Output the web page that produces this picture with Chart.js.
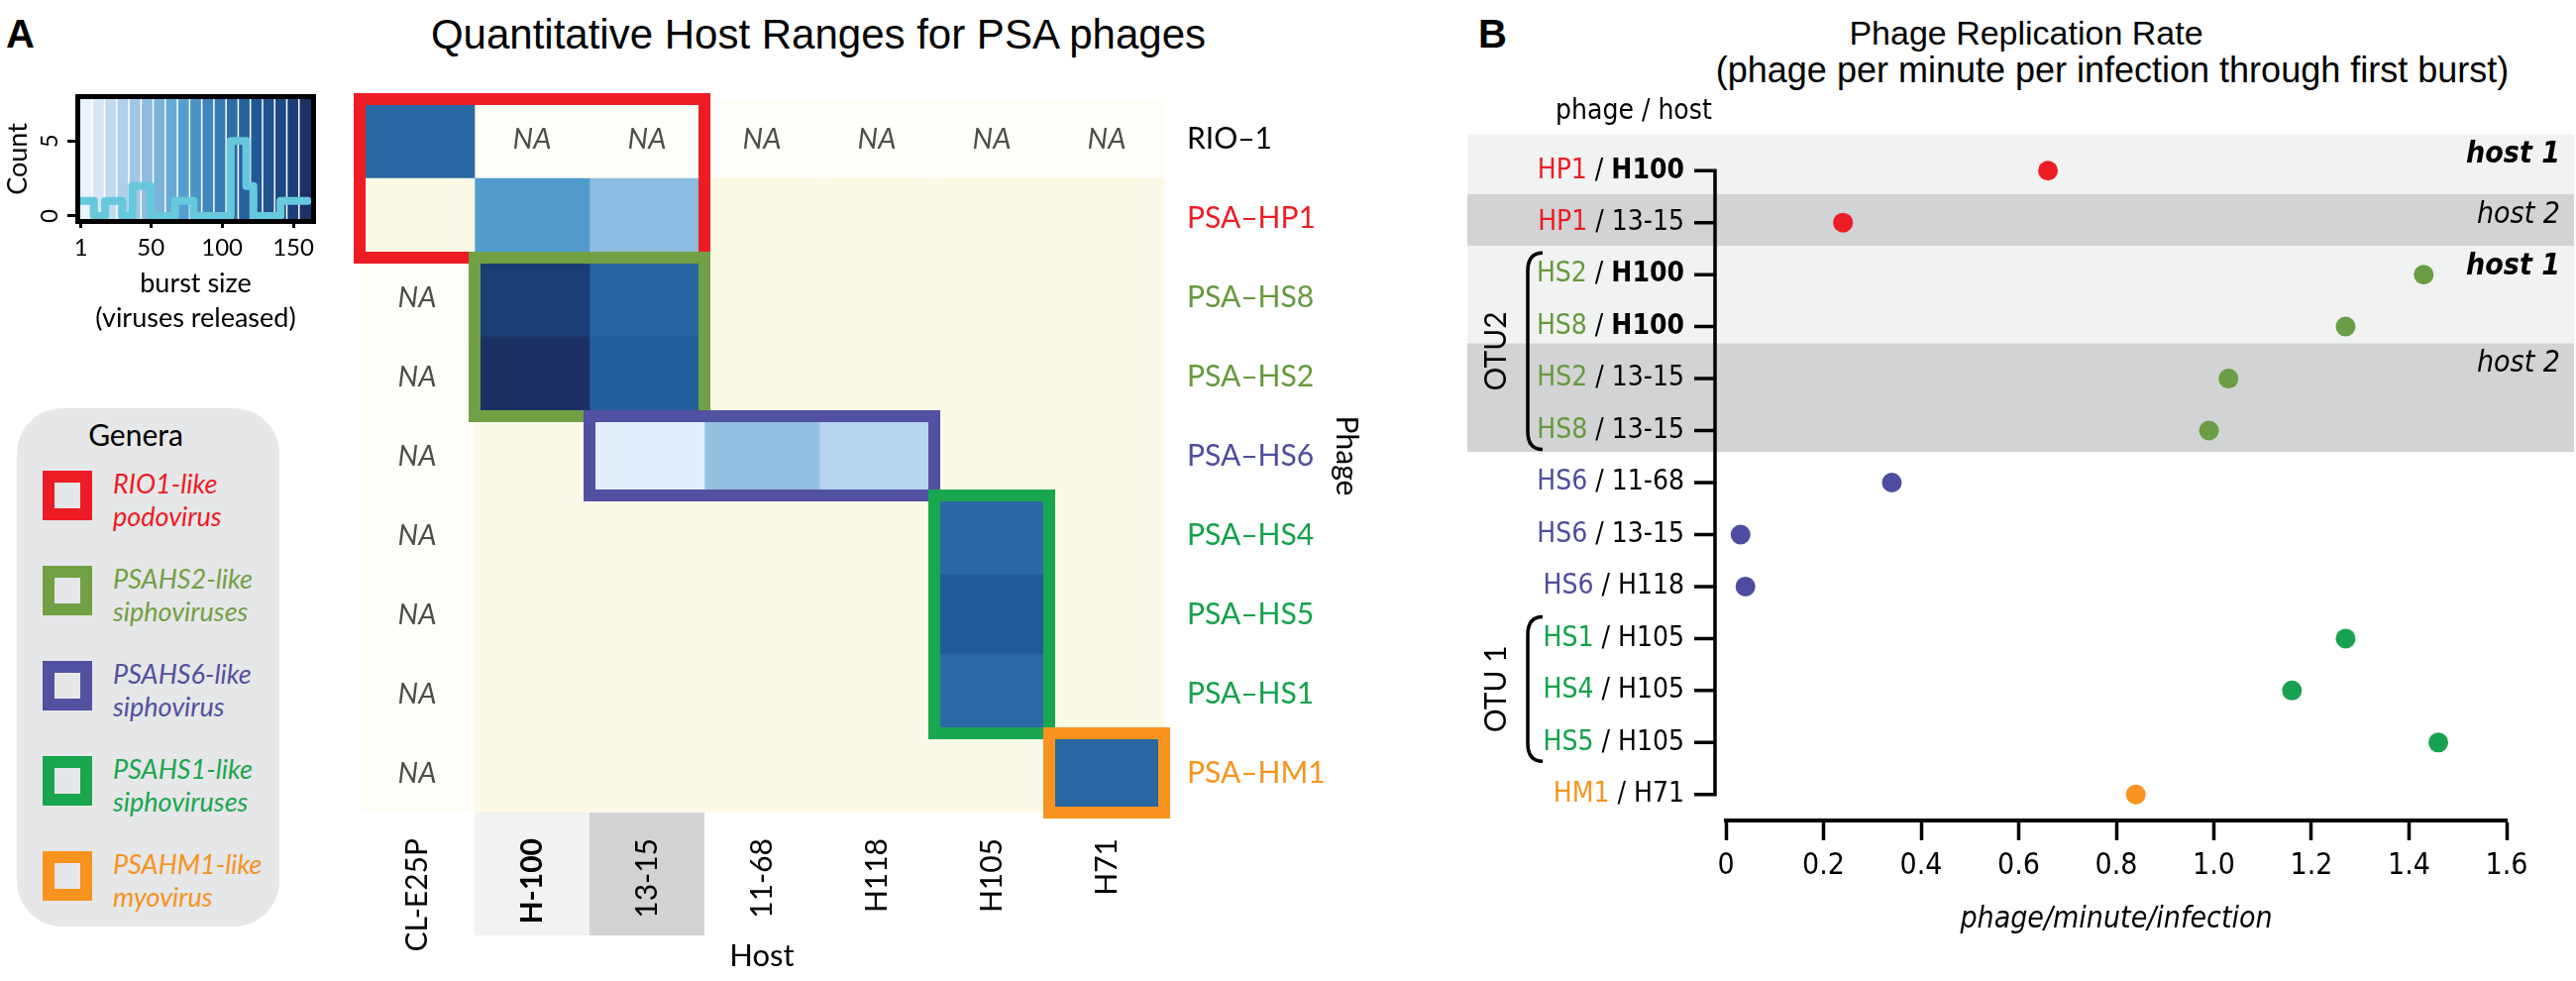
<!DOCTYPE html>
<html>
<head>
<meta charset="utf-8">
<script src="https://cdn.jsdelivr.net/npm/chart.js@4.4.1/dist/chart.umd.min.js"></script>
<style>
  body { margin: 0; width: 2600px; height: 990px; background: #fff; position: relative; overflow: hidden; font-family: Lato, "Open Sans", sans-serif; }
  canvas { position: absolute; }
  .txt { position: absolute; white-space: nowrap; line-height: 1; }
  #legend { position: absolute; left: 17px; top: 412px; width: 265px; height: 523px; background: #e6e7e8; border-radius: 46px; }
  .sq { position: absolute; width: 50px; height: 50px; border: 12px solid; box-sizing: border-box; }
  .lg { position: absolute; font-style: italic; font-size: 27px; line-height: 33px; }
</style>
</head>
<body>
<div class="txt" style="left:6px;top:12px;font:bold 40px 'Liberation Sans',Arial,sans-serif">A</div>
<div class="txt" style="left:826px;top:11px;transform:translateX(-50%);font:42px 'Liberation Sans',Arial,sans-serif">Quantitative Host Ranges for PSA phages</div>
<div class="txt" style="left:1492px;top:12px;font:bold 40px 'Liberation Sans',Arial,sans-serif">B</div>
<div class="txt" style="left:2045px;top:14px;transform:translateX(-50%);font:34px 'Liberation Sans',Arial,sans-serif">Phage Replication Rate</div>
<div class="txt" style="left:2132px;top:50px;transform:translateX(-50%);font:36px 'Liberation Sans',Arial,sans-serif">(phage per minute per infection through first burst)</div>
<div id="legend"></div>

<canvas id="hist" style="left:0;top:0" width="340" height="345"></canvas>
<canvas id="heat" style="left:340px;top:0" width="1040" height="990"></canvas>
<canvas id="dots" style="left:1400px;top:0" width="1200" height="990"></canvas>

<script>
// fonts
const FONT = 'Lato, "Open Sans", sans-serif'
const NARROW = '"Liberation Sans Narrow", "DejaVu Sans Condensed", sans-serif'

// ---------- burst size histogram (inset) ----------
const burstEdges = [1, 10, 18, 30, 37, 50, 67, 80, 106, 117, 122, 141, 160]
const burstCounts = [1, 0, 1, 0, 2, 0, 1, 0, 5, 2, 0, 1, 1]
const burstTicks = [1, 50, 100, 150]
const countTicks = [0, 5]

// ---------- host range heatmap ----------
const hosts = ['CL-E25P', 'H-100', '13-15', '11-68', 'H118', 'H105', 'H71']
const phages = ['RIO\u20131', 'PSA\u2013HP1', 'PSA\u2013HS8', 'PSA\u2013HS2', 'PSA\u2013HS6', 'PSA\u2013HS4', 'PSA\u2013HS5', 'PSA\u2013HS1', 'PSA\u2013HM1']
// burst size per host, null = NA, 0 = no infection
const rio1 = [110, null, null, null, null, null, null]
const hp1 = [0, 75, 48, 0, 0, 0, 0]
const hs8 = [null, 150, 113, 0, 0, 0, 0]
const hs2 = [null, 158, 118, 0, 0, 0, 0]
const hs6 = [null, 0, 8, 45, 25, 0, 0]
const hs4 = [null, 0, 0, 0, 0, 110, 0]
const hs5 = [null, 0, 0, 0, 0, 120, 0]
const hs1 = [null, 0, 0, 0, 0, 109, 0]
const hm1 = [null, 0, 0, 0, 0, 0, 111]
const burstRows = [rio1, hp1, hs8, hs2, hs6, hs4, hs5, hs1, hm1]

// genera (legend + boxes on the heatmap)
const genusLines = [['RIO1-like', 'podovirus'], ['PSAHS2-like', 'siphoviruses'], ['PSAHS6-like', 'siphovirus'], ['PSAHS1-like', 'siphoviruses'], ['PSAHM1-like', 'myovirus']]
const genusHostSpan = [[0, 2], [1, 2], [2, 4], [5, 5], [6, 6]]
const genusPhageSpan = [[0, 1], [2, 3], [4, 4], [5, 7], [8, 8]]

// ---------- replication rate ----------
const pairPhages = ['HP1', 'HP1', 'HS2', 'HS8', 'HS2', 'HS8', 'HS6', 'HS6', 'HS6', 'HS1', 'HS4', 'HS5', 'HM1']
const pairHosts = ['H100', '13-15', 'H100', 'H100', '13-15', '13-15', '11-68', '13-15', 'H118', 'H105', 'H105', 'H105', 'H71']
const rates = [0.66, 0.24, 1.43, 1.27, 1.03, 0.99, 0.34, 0.03, 0.04, 1.27, 1.16, 1.46, 0.84]
const rateTicks = [0, 0.2, 0.4, 0.6, 0.8, 1.0, 1.2, 1.4, 1.6]
const rateTickLabels = ['0', '0.2', '0.4', '0.6', '0.8', '1.0', '1.2', '1.4', '1.6']
const otuNames = ['OTU2', 'OTU 1']
const otuRows = [[2, 5], [9, 11]]
const hostBandNames = ['host 1', 'host 2', 'host 1', 'host 2']

// colours
const RED = '#ed1c24', OLIVE = '#72a045', PURPLE = '#5250a1', GREEN = '#1aa64f', ORANGE = '#f7931e'
const genusColors = [RED, OLIVE, PURPLE, GREEN, ORANGE]
const phageTextColors = ['#000', '#ed1c24', '#67993d', '#67993d', '#4f4c9e', '#14a14b', '#14a14b', '#14a14b', '#f7941d']
const dotColors = { HP1: '#ec1c24', HS2: '#6a9d45', HS8: '#6a9d45', HS6: '#4d4ca0', HS1: '#17a150', HS4: '#17a150', HS5: '#17a150', HM1: '#f7931e' }
const labelColors = { HP1: '#ed1c24', HS2: '#67993d', HS8: '#67993d', HS6: '#4f4c9e', HS1: '#14a14b', HS4: '#14a14b', HS5: '#14a14b', HM1: '#f7941d' }

// blue ramp used for burst size
const rampStops = [[0, '#f5f9fd'], [0.05, '#e1eef9'], [0.15, '#b8d6ee'], [0.28, '#92bfe1'], [0.45, '#549fd0'], [0.67, '#2a6aa5'], [0.74, '#215c98'], [0.9, '#1a4480'], [1, '#1c2a5a']]
const burstMax = 162
let hex2rgb = function(h) {
    return [parseInt(h.substr(1, 2), 16), parseInt(h.substr(3, 2), 16), parseInt(h.substr(5, 2), 16)]
}
let ramp = function(t) {
    t = Math.max(0, Math.min(1, t))
    for (let i = 1; i < rampStops.length; i++) {
        if (t <= rampStops[i][0]) {
            let a = rampStops[i - 1], b = rampStops[i]
            let f = (t - a[0]) / (b[0] - a[0])
            let ca = hex2rgb(a[1]), cb = hex2rgb(b[1])
            let c = ca.map((v, k) => Math.round(v + (cb[k] - v) * f))
            return 'rgb(' + c.join(',') + ')'
        }
    }
    return rampStops[rampStops.length - 1][1]
}
let cellColor = function(v) {
    if (v === null) return '#fefdf7'
    if (v === 0) return '#fcfae6'
    return ramp(v / burstMax)
}

// legend box (html text)
let legend = document.getElementById('legend')
legend.innerHTML = '<div class="txt" style="left:0;width:240px;text-align:center;top:11px;font-size:30px">Genera</div>'
genusLines.forEach(function(lines, i) {
    let top = 475 - 412 + i * 96
    legend.innerHTML += '<div class="sq" style="left:26px;top:' + top + 'px;border-color:' + genusColors[i] + '"></div>' +
        '<div class="lg" style="left:97px;top:' + (top - 4) + 'px;color:' + genusColors[i] + '">' + lines[0] + '<br>' + lines[1] + '</div>'
})

Chart.defaults.font.family = FONT
Chart.defaults.color = '#000'

// ---------- histogram chart ----------
let histDecor = {
    id: 'histDecor',
    beforeDatasetsDraw(chart) {
        let ctx = chart.ctx, ca = chart.chartArea, n = 19
        let w = ca.width / n
        for (let i = 0; i < n; i++) {
            ctx.fillStyle = ramp((i + 0.5) / n)
            ctx.fillRect(ca.left + i * w, ca.top, w + 0.5, ca.height)
        }
        ctx.strokeStyle = '#fff'
        ctx.lineWidth = 1.5
        for (let i = 1; i < n; i++) {
            ctx.beginPath()
            ctx.moveTo(ca.left + i * w, ca.top)
            ctx.lineTo(ca.left + i * w, ca.bottom)
            ctx.stroke()
        }
    },
    afterDraw(chart) {
        let ctx = chart.ctx, ca = chart.chartArea, ys = chart.scales.y
        ctx.strokeStyle = '#000'
        ctx.lineWidth = 5
        ctx.strokeRect(ca.left - 2.5, ca.top - 2.5, ca.width + 5, ca.height + 5)
        ctx.fillStyle = '#000'
        ctx.font = '24px ' + FONT
        ctx.textAlign = 'center'
        ctx.textBaseline = 'middle'
        ys.ticks.forEach(function(t) {
            ctx.save()
            ctx.translate(50, ys.getPixelForValue(t.value))
            ctx.rotate(-Math.PI / 2)
            ctx.fillText(String(t.value), 0, 0)
            ctx.restore()
        })
    }
}

new Chart(document.getElementById('hist'), {
    type: 'line',
    data: {
        datasets: [{
            data: burstEdges.map((e, i) => ({ x: e, y: burstCounts[i] })),
            stepped: true,
            borderColor: '#66c8dd',
            borderWidth: 8,
            borderCapStyle: 'round',
            borderJoinStyle: 'round',
            pointRadius: 0,
            clip: 6
        }]
    },
    options: {
        responsive: false,
        animation: false,
        layout: { padding: { top: 100, right: 26 } },
        plugins: { legend: { display: false }, tooltip: { enabled: false } },
        scales: {
            x: {
                type: 'linear', min: 0.5, max: 162.5,
                afterBuildTicks: s => { s.ticks = burstTicks.map(v => ({ value: v })) },
                afterFit: s => { s.height = 345 - 221 },
                grid: { drawOnChartArea: false, tickLength: 9, color: '#000', lineWidth: 3 },
                border: { display: false },
                ticks: { font: { size: 24 }, color: '#000', padding: 6, maxRotation: 0 },
                title: { display: true, text: ['burst size', '(viruses released)'], font: { size: 27, lineHeight: 1.3 }, color: '#000', padding: { top: 0, bottom: 6 } }
            },
            y: {
                min: -0.2, max: 7.8,
                afterBuildTicks: s => { s.ticks = countTicks.map(v => ({ value: v })) },
                afterFit: s => { s.width = 81 },
                grid: { drawOnChartArea: false, tickLength: 13, color: '#000', lineWidth: 3 },
                border: { display: false },
                ticks: { display: false },
                title: { display: true, text: 'Count', font: { size: 27 }, color: '#000', padding: 2 }
            }
        }
    },
    plugins: [histDecor]
})

// ---------- heatmap chart ----------
let heatDecor = {
    id: 'heatDecor',
    beforeDraw(chart) {
        let ctx = chart.ctx, xs = chart.scales.x, ca = chart.chartArea
        ctx.fillStyle = '#f1f2f2'
        ctx.fillRect(xs.getPixelForValue(1), ca.bottom, xs.getPixelForValue(2) - xs.getPixelForValue(1), 944 - ca.bottom)
        ctx.fillStyle = '#d1d3d4'
        ctx.fillRect(xs.getPixelForValue(2), ca.bottom, xs.getPixelForValue(3) - xs.getPixelForValue(2), 944 - ca.bottom)
    },
    afterDatasetsDraw(chart) {
        let ctx = chart.ctx, xs = chart.scales.x, ys = chart.scales.y
        let half = (ys.getPixelForValue(1) - ys.getPixelForValue(0)) / 2
        // NA cells
        ctx.fillStyle = '#4d4d4d'
        ctx.font = 'italic 29px ' + FONT
        ctx.textAlign = 'center'
        ctx.textBaseline = 'middle'
        burstRows.forEach(function(row, i) {
            row.forEach(function(v, j) {
                if (v === null) ctx.fillText('NA', xs.getPixelForValue(j + 0.5), ys.getPixelForValue(i) + 1)
            })
        })
        // genus boxes
        ctx.lineWidth = 12
        genusHostSpan.forEach(function(hs, g) {
            let ps = genusPhageSpan[g]
            let x0 = xs.getPixelForValue(hs[0]), x1 = xs.getPixelForValue(hs[1] + 1)
            let y0 = ys.getPixelForValue(ps[0]) - half, y1 = ys.getPixelForValue(ps[1]) + half
            ctx.strokeStyle = genusColors[g]
            ctx.strokeRect(x0, y0, x1 - x0, y1 - y0)
        })
    }
}

new Chart(document.getElementById('heat'), {
    type: 'bar',
    data: {
        labels: phages,
        datasets: hosts.map(function(h, j) {
            return {
                label: h,
                data: phages.map(() => 1),
                backgroundColor: c => cellColor(burstRows[c.dataIndex][j]),
                borderWidth: 0,
                barPercentage: 1,
                categoryPercentage: 1
            }
        })
    },
    options: {
        indexAxis: 'y',
        responsive: false,
        animation: false,
        layout: { padding: { top: 100, left: 23 } },
        plugins: { legend: { display: false }, tooltip: { enabled: false } },
        scales: {
            x: {
                type: 'linear', stacked: true, min: 0, max: hosts.length,
                afterBuildTicks: s => { s.ticks = hosts.map((h, j) => ({ value: j + 0.5 })) },
                afterFit: s => { s.height = 990 - 820 },
                grid: { display: false },
                border: { display: false },
                ticks: {
                    callback: (v, i) => hosts[i],
                    minRotation: 90, maxRotation: 90,
                    padding: 18,
                    color: '#000',
                    font: c => ({ size: 30, weight: c.index === 1 ? 'bold' : 'normal' })
                },
                title: { display: true, text: 'Host', font: { size: 31 }, color: '#000', padding: { top: 0, bottom: 6 } }
            },
            y: {
                stacked: true,
                position: 'right',
                afterFit: s => { s.width = 1040 - 835 },
                grid: { display: false },
                border: { display: false },
                ticks: { color: c => phageTextColors[c.index], font: { size: 30 }, padding: 15, crossAlign: 'near' },
                title: { display: true, text: 'Phage', font: { size: 30 }, color: '#000', padding: 3 }
            }
        }
    },
    plugins: [heatDecor]
})

// ---------- replication rate dot chart ----------
let rowLabels = pairPhages.map((p, i) => p + ' / ' + pairHosts[i])

let dotDecor = {
    id: 'dotDecor',
    beforeDraw(chart) {
        let ctx = chart.ctx, ys = chart.scales.y
        let step = ys.getPixelForValue(1) - ys.getPixelForValue(0)
        let at = u => ys.getPixelForValue(0) + u * step
        // host bands
        let bands = [[-0.7, 0.45, '#f1f2f2'], [0.45, 1.45, '#d1d3d4'], [1.45, 3.32, '#f1f2f2'], [3.32, 5.41, '#d1d3d4']]
        bands.forEach(function(b, k) {
            ctx.fillStyle = b[2]
            ctx.fillRect(81, at(b[0]), 1198 - 81, at(b[1]) - at(b[0]))
            ctx.fillStyle = '#000'
            ctx.font = 'italic ' + (k % 2 === 0 ? 'bold ' : '') + '30px ' + NARROW
            ctx.textAlign = 'right'
            ctx.textBaseline = 'middle'
            ctx.fillText(hostBandNames[k], 1184, at(b[0]) + 21)
        })
    },
    afterDraw(chart) {
        let ctx = chart.ctx, ys = chart.scales.y, ca = chart.chartArea
        let axisX = ca.left - 11
        ctx.textBaseline = 'middle'
        ctx.textAlign = 'right'
        // row labels: coloured phage / black host
        rowLabels.forEach(function(lab, i) {
            let y = ys.getPixelForValue(i)
            let parts = [
                { t: pairPhages[i], f: '28px ' + NARROW, c: labelColors[pairPhages[i]] },
                { t: ' / ', f: '28px ' + NARROW, c: '#000' },
                { t: pairHosts[i], f: (pairHosts[i] === 'H100' ? 'bold ' : '') + '28px ' + NARROW, c: '#000' }
            ]
            let x = ca.left - 42
            for (let k = parts.length - 1; k >= 0; k--) {
                ctx.font = parts[k].f
                ctx.fillStyle = parts[k].c
                ctx.fillText(parts[k].t, x, y)
                x -= ctx.measureText(parts[k].t).width
            }
        })
        // y axis line with ticks
        ctx.strokeStyle = '#000'
        ctx.lineWidth = 3.5
        ctx.beginPath()
        ctx.moveTo(axisX, ys.getPixelForValue(0) - 1.75)
        ctx.lineTo(axisX, ys.getPixelForValue(rowLabels.length - 1) + 1.75)
        rowLabels.forEach(function(l, i) {
            ctx.moveTo(axisX - 21, ys.getPixelForValue(i))
            ctx.lineTo(axisX, ys.getPixelForValue(i))
        })
        ctx.stroke()
        // header
        ctx.fillStyle = '#000'
        ctx.font = '28px ' + NARROW
        ctx.textAlign = 'left'
        ctx.fillText('phage / host', 170, 113)
        // OTU brackets
        otuRows.forEach(function(r, k) {
            let top = ys.getPixelForValue(r[0]) - 22, bot = ys.getPixelForValue(r[1]) + 19, bx = 142
            ctx.lineWidth = 3.5
            ctx.beginPath()
            ctx.moveTo(bx + 15, top)
            ctx.quadraticCurveTo(bx, top, bx, top + 18)
            ctx.lineTo(bx, bot - 18)
            ctx.quadraticCurveTo(bx, bot, bx + 15, bot)
            ctx.stroke()
            ctx.save()
            ctx.translate(110, (top + bot) / 2)
            ctx.rotate(-Math.PI / 2)
            ctx.textAlign = 'center'
            ctx.font = '30px ' + FONT
            ctx.fillText(otuNames[k], 0, 0)
            ctx.restore()
        })
    }
}

new Chart(document.getElementById('dots'), {
    type: 'scatter',
    data: {
        datasets: [{
            data: rates.map((r, i) => ({ x: r, y: rowLabels[i] })),
            pointRadius: 10,
            pointBorderWidth: 0,
            pointBackgroundColor: pairPhages.map(p => dotColors[p])
        }, {
            data: rates.map((r, i) => ({ x: r, y: rowLabels[i] })),
            pointRadius: 1.3,
            pointBorderWidth: 0,
            pointBackgroundColor: '#fff'
        }]
    },
    options: {
        responsive: false,
        animation: false,
        layout: { padding: { top: 146, left: 342, right: 70 } },
        plugins: { legend: { display: false }, tooltip: { enabled: false } },
        scales: {
            x: {
                type: 'linear', min: 0, max: 1.6,
                afterBuildTicks: s => { s.ticks = rateTicks.map(v => ({ value: v })) },
                afterFit: s => { s.height = 990 - 828 },
                grid: { drawOnChartArea: false, tickLength: 20, tickWidth: 3.5, tickColor: '#000' },
                border: { display: true, width: 4, color: '#000' },
                ticks: { callback: (v, i) => rateTickLabels[i], font: { size: 30, family: NARROW }, color: '#000', padding: 8, maxRotation: 0 },
                title: { display: true, text: 'phage/minute/infection', font: { size: 30, style: 'italic', family: NARROW }, color: '#000', padding: { top: 0, bottom: 44 } }
            },
            y: {
                type: 'category', labels: rowLabels, offset: true, display: false
            }
        }
    },
    plugins: [dotDecor]
})
</script>
</body>
</html>
